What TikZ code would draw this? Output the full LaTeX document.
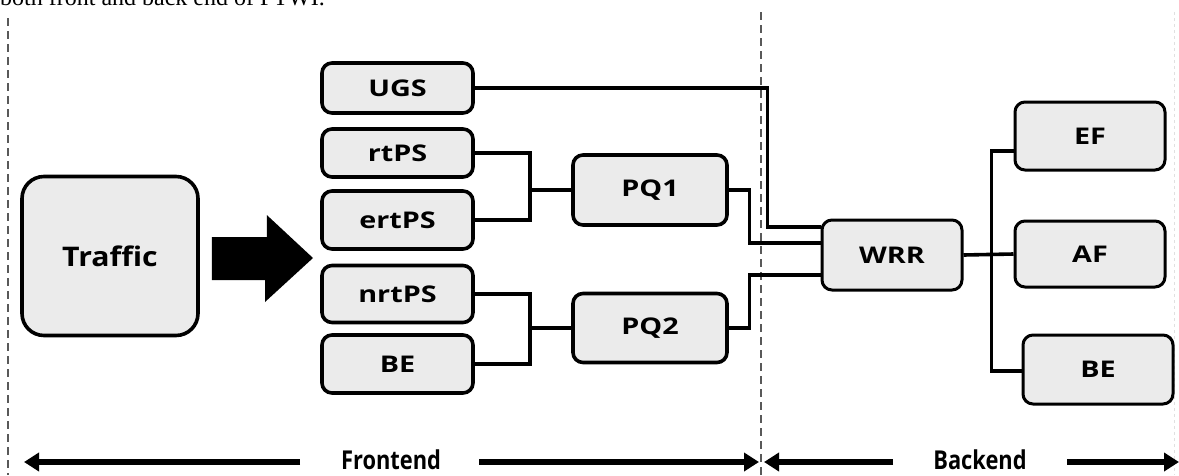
\documentclass[tikz,border=0pt]{standalone}
\usepackage{fontspec}
\setmainfont{Liberation Serif}
\newfontfamily\boxfont{Open Sans}
\usetikzlibrary{calc,arrows.meta}
\definecolor{boxfill}{HTML}{EBEBEB}
\newcommand\widelbl[1]{\scalebox{1.25}[1]{#1}}
\tikzset{
  box/.style={draw=black, line width=3.6pt, fill=boxfill, rounded corners=10pt,
    font=\boxfont\bfseries\fontsize{23}{26}\selectfont, inner sep=0pt},
  conn/.style={draw=black, line width=3.6pt},
  sep/.style={draw=black!65, line width=1.6pt, dash pattern=on 8pt off 5pt},
  dimarrow/.style={draw=black, line width=6pt, -{Triangle[length=15pt,width=18pt]}},
  dimlabel/.style={font=\boxfont\bfseries\fontsize{26}{28}\selectfont, inner sep=0pt}
}
\begin{document}
\begin{tikzpicture}[x=1pt,y=-1pt]
\clip (0,0) rectangle (1179,475);
\fill[white] (0,0) rectangle (1179,475);
% cut caption line
\node[anchor=base west, inner sep=0pt, font=\fontsize{24}{26}\selectfont] (cap) at (0,5) {both front and back end of FTWI.};
% separators
\draw[sep] (8,18) -- (8,475);
\draw[sep] (761,12) -- (761,475);
\draw[draw=black!12, line width=1pt, dash pattern=on 3pt off 3pt] (1174,12) -- (1174,475);
% nodes
\node[box, rounded corners=22pt, minimum width=176pt, minimum height=159pt,
  font=\boxfont\bfseries\fontsize{27}{30}\selectfont] (traffic) at (110,256) {\scalebox{1.12}[1]{Traffic}};
\node[box, minimum width=151pt, minimum height=50pt] (ugs) at (397.5,88) {\widelbl{UGS}};
\node[box, minimum width=151pt, minimum height=48pt] (rtps) at (397.5,153) {\widelbl{rtPS}};
\node[box, minimum width=151pt, minimum height=58pt] (ertps) at (397.5,220) {\widelbl{ertPS}};
\node[box, minimum width=151pt, minimum height=57pt] (nrtps) at (397.5,294) {\widelbl{nrtPS}};
\node[box, minimum width=151pt, minimum height=58pt] (be) at (397.5,364) {\widelbl{BE}};
\node[box, minimum width=154pt, minimum height=70pt] (pq1) at (650,190) {\widelbl{PQ1}};
\node[box, minimum width=154pt, minimum height=69pt] (pq2) at (650,328) {\widelbl{PQ2}};
\node[box, line width=3pt, minimum width=140pt, minimum height=70pt] (wrr) at (892,255) {\widelbl{WRR}};
\node[box, line width=3pt, minimum width=150pt, minimum height=68pt] (ef) at (1090,136) {\widelbl{EF}};
\node[box, line width=3pt, minimum width=150pt, minimum height=66pt] (af) at (1090,254) {\widelbl{AF}};
\node[box, line width=3pt, minimum width=150pt, minimum height=69pt] (be2) at (1098,369.5) {\widelbl{BE}};
% big arrow
\fill[black] ($(traffic.east)+(12,-19)$) -- ++(55,0) -- ++(0,-22) -- (313,258) -- (265,302) -- (265,280) -- ($(traffic.east)+(12,24)$) -- cycle;
% frontend connectors
\coordinate (j1) at (530,0);
\coordinate (j2) at (530,0);
\draw[conn] (rtps.east) -- (rtps.east -| j1) -- (ertps.east -| j1) -- (ertps.east);
\draw[conn] (pq1.west) -- (pq1.west -| j1);
\draw[conn] (nrtps.east) -- (nrtps.east -| j2) -- (be.east -| j2) -- (be.east);
\draw[conn] (pq2.west) -- (pq2.west -| j2);
% to WRR
\draw[conn] (ugs.east) -| ($(wrr.west)+(-53,-28)$) -- ($(wrr.west)+(0,-28)$);
\draw[conn] (pq1.east) -| ($(wrr.west)+(-71,-12)$) -- ($(wrr.west)+(0,-12)$);
\draw[conn] (pq2.east) -| ($(wrr.west)+(-71,20)$) -- ($(wrr.west)+(0,20)$);
% backend
\draw[conn] (wrr.east) -- (af.west);
\draw[conn] ($(ef.west)+(0,15)$) -| ($(be2.west)+(-30,1.5)$) -- ($(be2.west)+(0,1.5)$);
% dimension arrows
\node[dimlabel] (fe) at (391,460) {\scalebox{0.84}[1]{Frontend}};
\node[dimlabel] (bk) at (980,460) {\scalebox{0.84}[1]{Backend}};
\coordinate (fl) at (24,462);
\coordinate (fr) at (759,462);
\coordinate (bl) at (764,462);
\coordinate (br) at (1179,462);
\draw[dimarrow] (300,462) -- (fl);
\draw[dimarrow] (479,462) -- (fr);
\draw[dimarrow] (893,462) -- (bl);
\draw[dimarrow] (1067,462) -- (br);
\end{tikzpicture}
\end{document}
